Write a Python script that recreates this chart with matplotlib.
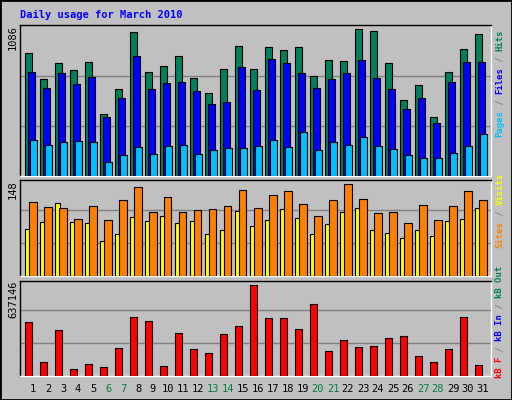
import matplotlib
matplotlib.use("Agg")
import matplotlib.pyplot as plt
from matplotlib.patches import Rectangle

days = list(range(1, 32))
weekend = [6, 7, 13, 14, 20, 21, 27, 28]
hits = [888,700,816,765,823,446,627,1040,750,794,866,707,598,772,939,772,931,910,931,721,837,830,1062,1047,816,548,656,425,750,917,1026]
files = [750,635,743,664,714,425,562,866,627,671,678,613,519,533,787,620,845,816,743,635,700,743,837,707,627,483,562,381,678,823,823]
pages = [258,222,244,251,244,99,150,208,157,215,222,157,186,200,200,215,258,208,316,186,244,222,280,215,193,150,128,128,164,215,302]
visits = [70,81,109,81,79,52,63,88,82,90,79,82,63,69,97,75,84,100,87,63,78,96,102,69,64,57,69,60,82,85,102]
sites = [111,103,102,85,105,84,114,133,96,118,96,99,100,105,129,102,121,127,108,90,114,138,115,94,96,79,106,84,105,127,114]
kbytes = [349700,92200,298200,47200,79400,60100,182400,381900,356100,66500,278900,175900,150200,272500,323900,587800,375400,375400,304600,465500,163000,233800,188800,195200,246700,259600,130900,92200,175900,381900,72900]
max_hits, max_sites, max_kb = 1086, 148, 637146

W, H = 512, 400
fig = plt.figure(figsize=(W/100, H/100), dpi=100)
fig.patch.set_facecolor("#C0C0C0")
mono = "DejaVu Sans Mono"

def px_axes(x0, y0, x1, y1):
    ax = fig.add_axes([x0/W, 1-y1/H, (x1-x0)/W, (y1-y0)/H])
    ax.set_facecolor("#C0C0C0")
    ax.set_xticks([]); ax.set_yticks([])
    for s in ax.spines.values():
        s.set_color("black"); s.set_linewidth(1)
    ax.spines["bottom"].set_color("white"); ax.spines["right"].set_color("white")
    ax.set_xlim(-0.33, 31.07)
    return ax

def bars(ax, vals, off, w, color):
    ax.bar([i + off for i in range(31)], vals, width=w, align="edge",
           color=color, edgecolor="black", linewidth=0.8, zorder=3)

def grid(ax, top):
    for f in (1/3, 2/3):
        ax.axhline(top*f, color="#808080", linewidth=1, zorder=1)

ax1 = px_axes(20, 25, 491, 176)
ax1.set_ylim(0, max_hits*151/150)
grid(ax1, max_hits)
bars(ax1, hits, 0.0, 0.5, "#00805C")
bars(ax1, files, 0.17, 0.5, "#0000FF")
bars(ax1, pages, 0.33, 0.5, "#00C0FF")

ax2 = px_axes(20, 180, 491, 276)
ax2.set_ylim(0, max_sites*96/99)
grid(ax2, max_sites)
bars(ax2, visits, 0.0, 0.33, "#FFFF00")
bars(ax2, sites, 0.27, 0.5, "#FF8000")

ax3 = px_axes(20, 281, 491, 376)
ax3.set_ylim(0, max_kb*95/99)
grid(ax3, max_kb)
bars(ax3, kbytes, 0.0, 0.5, "#FF0000")

fig.patches.append(Rectangle((0, 0), 1, 1, transform=fig.transFigure, fill=False,
                             edgecolor="black", linewidth=2))

fig.text(20/W, 1-15/H, "Daily usage for March 2010", color="#0000FF",
         family=mono, weight="bold", fontsize=7.5, va="center")

for y, lab in ((25, str(max_hits)), (180, str(max_sites)), (281, str(max_kb))):
    fig.text(13/W, 1-y/H, lab, rotation=90, ha="center", va="top",
             family=mono, fontsize=7.5)

for d in days:
    x = 20 + 5 + (d-1)*15 + 8
    fig.text(x/W, 1-389/H, str(d), ha="center", va="center", family=mono, fontsize=7.5,
             color="#008040" if d in weekend else "black")

char = 5.35
def vlabel(y_bottom, parts):
    y = y_bottom
    for txt, col in parts:
        fig.text(500/W, 1-y/H, txt, rotation=90, ha="center", va="bottom",
                 family=mono, weight="bold", fontsize=6.4, color=col)
        y -= char*len(txt)

vlabel(137, [("Pages", "#00C0FF"), (" / ", "#808080"), ("Files", "#0000FF"),
             (" / ", "#808080"), ("Hits", "#00805C")])
vlabel(248, [("Sites", "#FF8000"), (" / ", "#808080"), ("Visits", "#FFFF00")])
vlabel(378, [("kB F", "#FF0000"), (" / ", "#808080"), ("kB In", "#0000FF"),
             (" / ", "#808080"), ("kB Out", "#00805C")])

fig.savefig("out.png", dpi=100, facecolor=fig.get_facecolor())
